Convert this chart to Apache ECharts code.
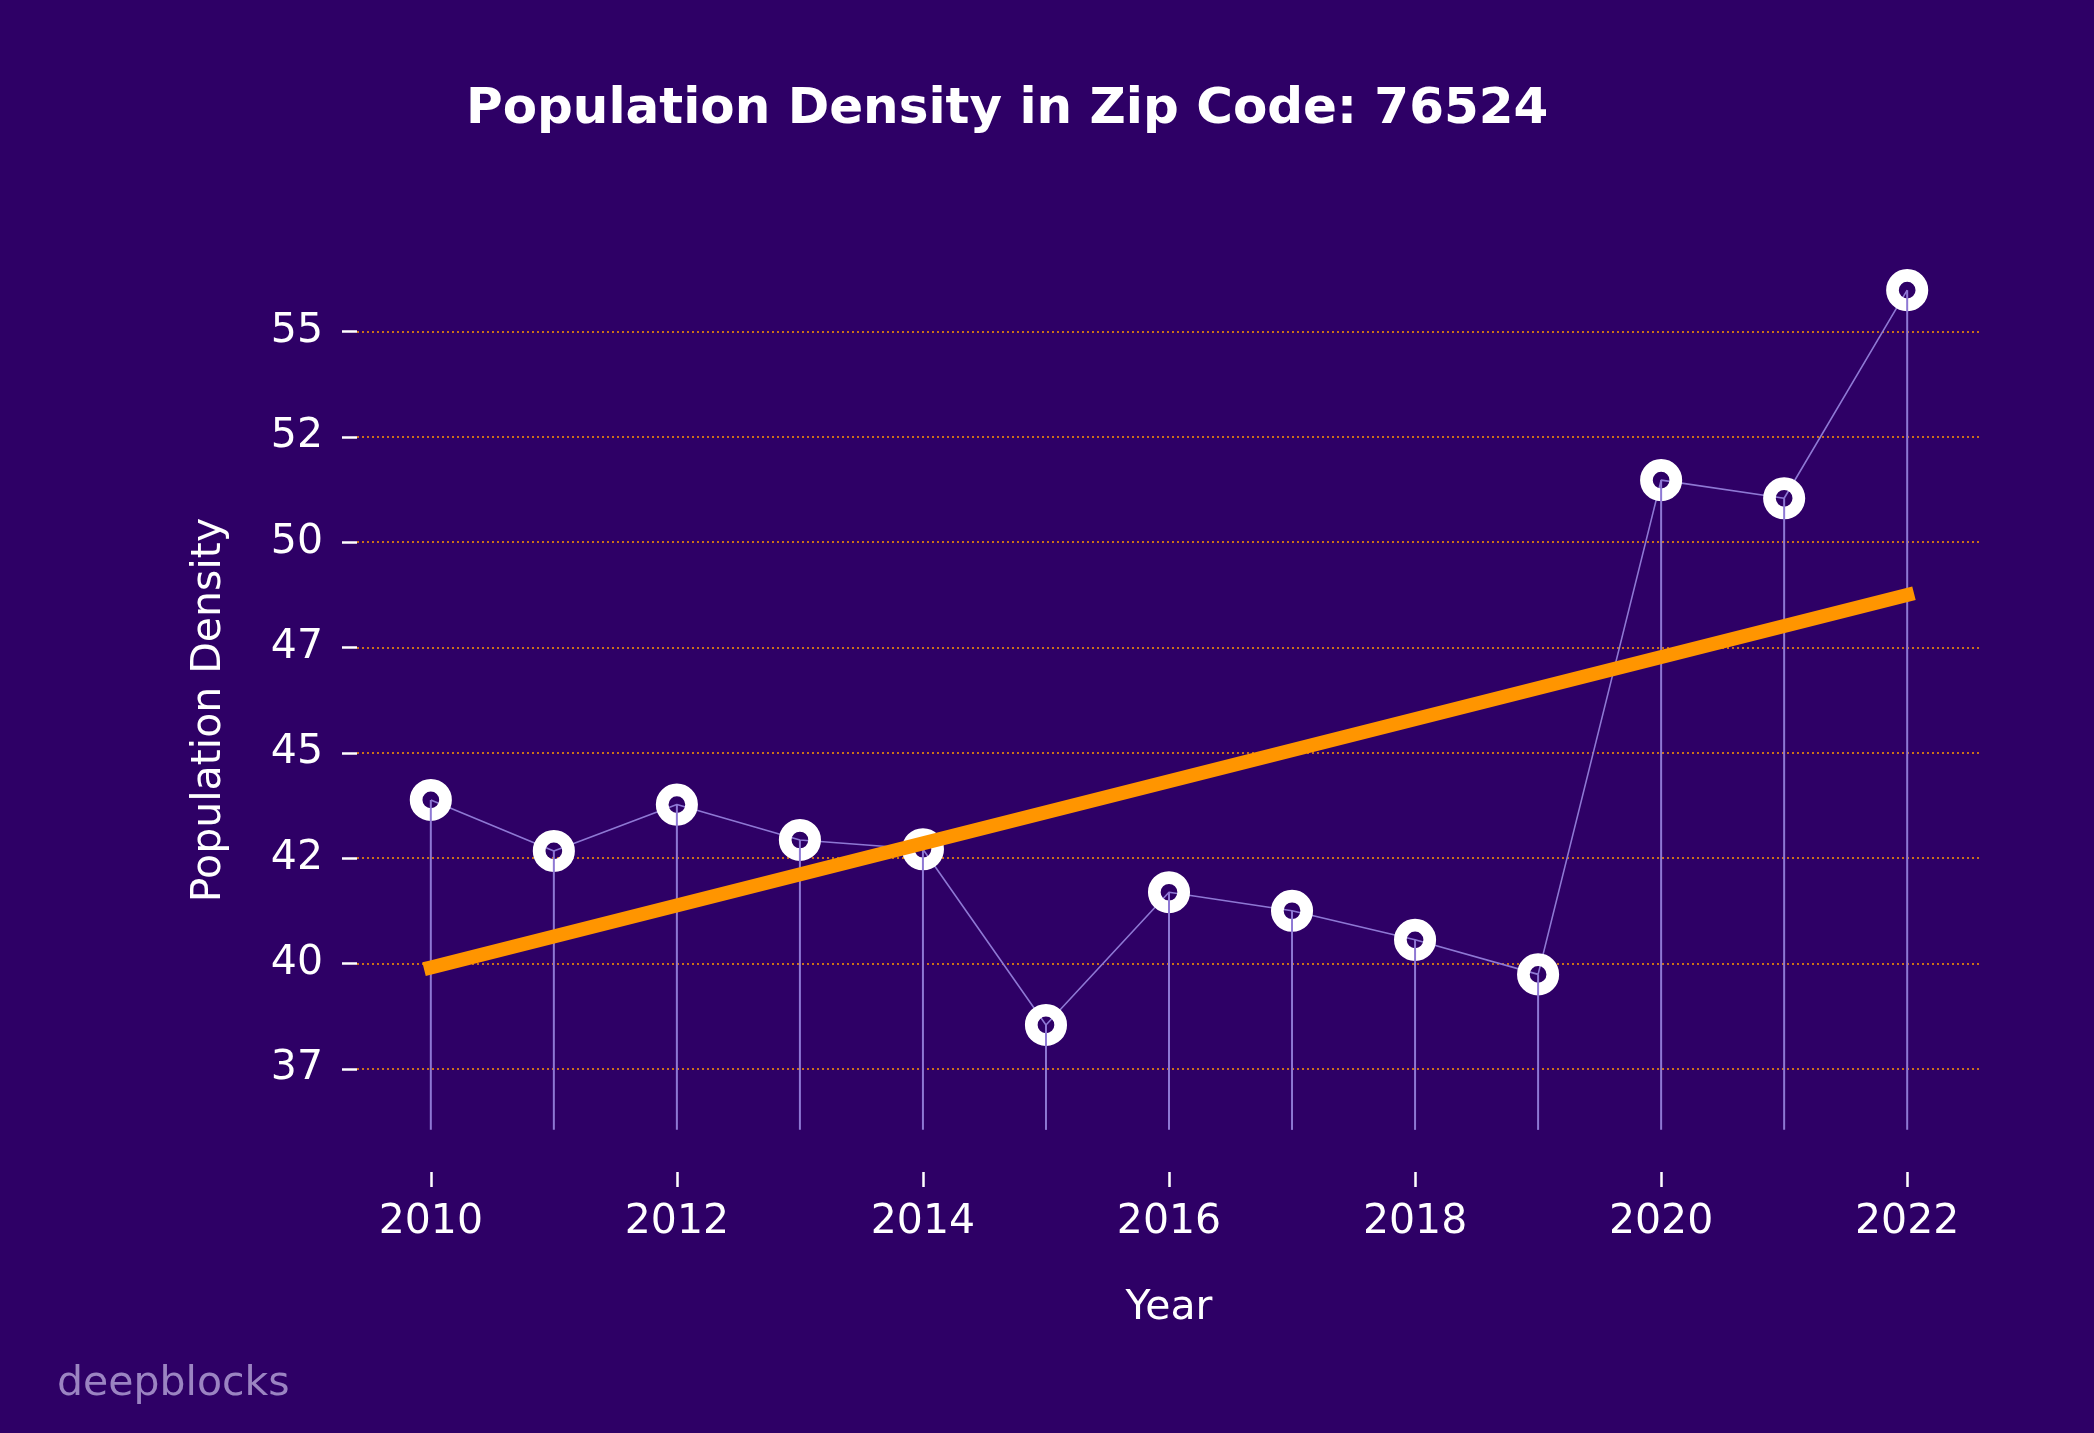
<!DOCTYPE html>
<html>
<head>
<meta charset="utf-8">
<script src="https://cdn.jsdelivr.net/npm/echarts@6/dist/echarts.min.js"></script>
<style>
html,body{margin:0;padding:0;background:#2e0066;}
#chart{width:2094px;height:1433px;}
</style>
</head>
<body>
<div id="chart"></div>
<script>
const years = [2010, 2011, 2012, 2013, 2014, 2015, 2016, 2017, 2018, 2019, 2020, 2021, 2022];
const density = [43.88, 42.67, 43.77, 42.93, 42.71, 38.54, 41.69, 41.25, 40.56, 39.74, 51.47, 51.04, 55.98];
const xTicks = [2010, 2012, 2014, 2016, 2018, 2020, 2022];
const yTicks = [37.5, 40, 42.5, 45, 47.5, 50, 52.5, 55];
const STEM_BASE = 36.05;
const X_RANGE = [2009.4, 2022.6];
const Y_RANGE = [35.05, 56.98];

// least squares trend from the data
const n = years.length;
const mx = years.reduce((a, b) => a + b, 0) / n;
const my = density.reduce((a, b) => a + b, 0) / n;
let sxy = 0, sxx = 0;
for (let i = 0; i < n; i++) { sxy += (years[i] - mx) * (density[i] - my); sxx += (years[i] - mx) ** 2; }
const slope = sxy / sxx;
const trend = [years[0], years[n - 1]].map(x => [x, my + slope * (x - mx)]);

const points = years.map((y, i) => [y, density[i]]);
const FONT = 'DejaVu Sans';
const BG = '#2e0066';
const PURPLE = '#8e78d4';
const ORANGE = '#ff9500';

const chart = echarts.init(document.getElementById('chart'), null, {renderer: 'canvas'});
chart.setOption({
  backgroundColor: BG,
  animation: false,
  grid: {left: 357, right: 113, top: 248, bottom: 261, containLabel: false},
  xAxis: {
    type: 'value', min: X_RANGE[0], max: X_RANGE[1],
    name: 'Year', nameLocation: 'middle', nameGap: 116,
    nameTextStyle: {color: '#ffffff', fontFamily: FONT, fontSize: 41},
    axisLine: {show: false},
    axisTick: {show: true, length: 15, customValues: xTicks, lineStyle: {color: '#ffffff', width: 2.5}},
    axisLabel: {customValues: xTicks, color: '#ffffff', fontFamily: FONT, fontSize: 41, margin: 30,
      formatter: v => String(Math.round(v))},
    splitLine: {show: false}
  },
  yAxis: {
    type: 'value', min: Y_RANGE[0], max: Y_RANGE[1],
    name: 'Population Density', nameLocation: 'middle', nameGap: 127, nameRotate: 90,
    nameTextStyle: {color: '#ffffff', fontFamily: FONT, fontSize: 41},
    axisLine: {show: false},
    axisTick: {show: true, length: 15, customValues: yTicks, lineStyle: {color: '#ffffff', width: 2.5}},
    axisLabel: {customValues: yTicks, color: '#ffffff', fontFamily: FONT, fontSize: 41, margin: 34,
      formatter: v => String(Math.floor(v + 1e-9))},
    splitLine: {show: true, lineStyle: {color: ORANGE, width: 1.6, type: [2, 3]}}
  },
  graphic: [
    {type: 'text', left: 1006 - 540, top: 85, z: 10,
      style: {text: 'Population Density in Zip Code: 76524', fill: '#ffffff',
        font: 'bold 50px "DejaVu Sans"'}},
    {type: 'text', left: 57, top: 1364, z: 10,
      style: {text: 'deepblocks', fill: '#9b84c2', font: '41px "DejaVu Sans"'}}
  ],
  series: [
    {
      type: 'line', data: points, z: 2,
      symbol: 'circle', symbolSize: 29.4,
      itemStyle: {color: 'rgba(0,0,0,0)', borderColor: '#ffffff', borderWidth: 12.7},
      lineStyle: {color: PURPLE, width: 1.6},
      emphasis: {disabled: true}
    },
    {
      type: 'custom', data: points, z: 3,
      renderItem: function (params, api) {
        const x = api.value(0), y = api.value(1);
        const top = api.coord([x, y]);
        const bot = api.coord([x, STEM_BASE]);
        return {type: 'line', shape: {x1: bot[0], y1: bot[1], x2: top[0], y2: top[1]},
          style: {stroke: PURPLE, lineWidth: 2}};
      }
    },
    {
      type: 'line', data: trend, z: 4, symbol: 'none',
      lineStyle: {color: ORANGE, width: 14, cap: 'square'},
      emphasis: {disabled: true}
    }
  ]
});
</script>
</body>
</html>
